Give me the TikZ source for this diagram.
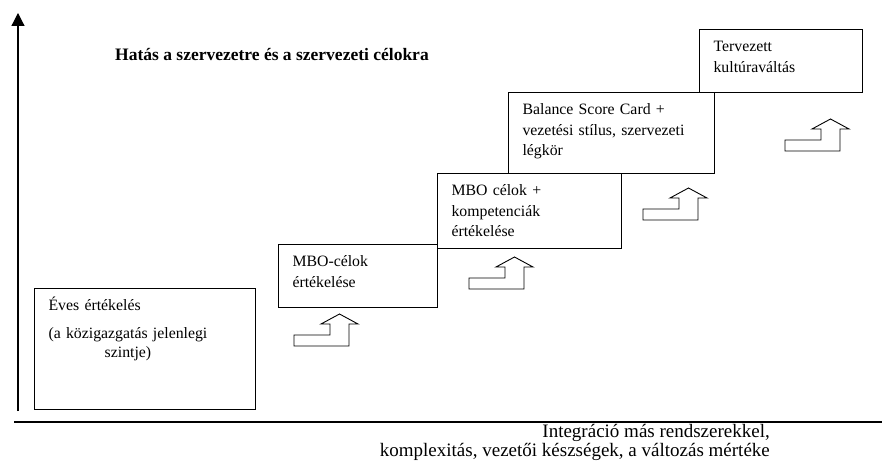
\documentclass[tikz,border=0pt]{standalone}
\usepackage{fontspec}
\setmainfont{Liberation Serif}
\usetikzlibrary{arrows.meta}
\tikzset{
  stage/.style={draw, line width=1.1pt, anchor=north west, align=left,
    inner xsep=14pt, inner ysep=0pt, text height=22pt,
    font=\fontsize{15.8}{20.5}\selectfont},
  steparrow/.pic={
    \draw[line width=0.9pt] (0,0) -- (55,0) -- (55,-22) -- (64,-22) -- (45.5,-32)
      -- (27,-22) -- (36,-22) -- (36,-11) -- (0,-11) -- cycle;}
}
\begin{document}
\begin{tikzpicture}[x=1pt,y=-1pt]
\useasboundingbox (0,0) rectangle (882,462);
% axes
\coordinate (origo) at (18,411);
\coordinate (fent) at (18,13);
\coordinate (bal) at (14,422);
\coordinate (jobb) at (882,422);
\draw[line width=1.2pt, -{Triangle[width=13pt,length=13pt]}] (origo) -- (fent);
\draw[line width=1.4pt] (bal) -- (jobb);
% title
\node[anchor=base west, inner sep=0pt, font=\fontsize{17.5}{20.5}\selectfont\bfseries] (cim) at (115,61)
  {Hatás a szervezetre és a szervezeti célokra};
% stages
\node[stage, text width=193pt, text depth=99pt] (eves) at (34,288)
  {Éves értékelés\\[7pt]\begin{tabular}[t]{@{}c@{}}(a közigazgatás jelenlegi\\[-1.5pt] szintje)\end{tabular}};
\node[stage, text width=131pt, text depth=41pt] (mbo) at (278,244)
  {MBO-célok\\ értékelése};
\node[stage, text width=156pt, text depth=53pt] (komp) at (437,173)
  {MBO célok +\\ kompetenciák\\ értékelése};
\node[stage, text width=178pt, text depth=59pt] (bsc) at (508,92)
  {Balance Score Card +\\ \mbox{vezetési stílus, szervezeti}\\ légkör};
\node[stage, text width=135pt, text depth=41pt] (kultura) at (699,29)
  {Tervezett\\ kultúraváltás};
% step arrows
\pic at (294,346) {steparrow};
\pic at (469,289) {steparrow};
\pic at (643,220) {steparrow};
\pic at (785,151) {steparrow};
% x axis text
\node[anchor=base east, align=right, inner sep=0pt, font=\fontsize{19}{18.5}\selectfont] (integracio) at (770,456)
  {Integráció más rendszerekkel,\\ komplexitás, vezetői készségek, a változás mértéke};
\end{tikzpicture}
\end{document}
